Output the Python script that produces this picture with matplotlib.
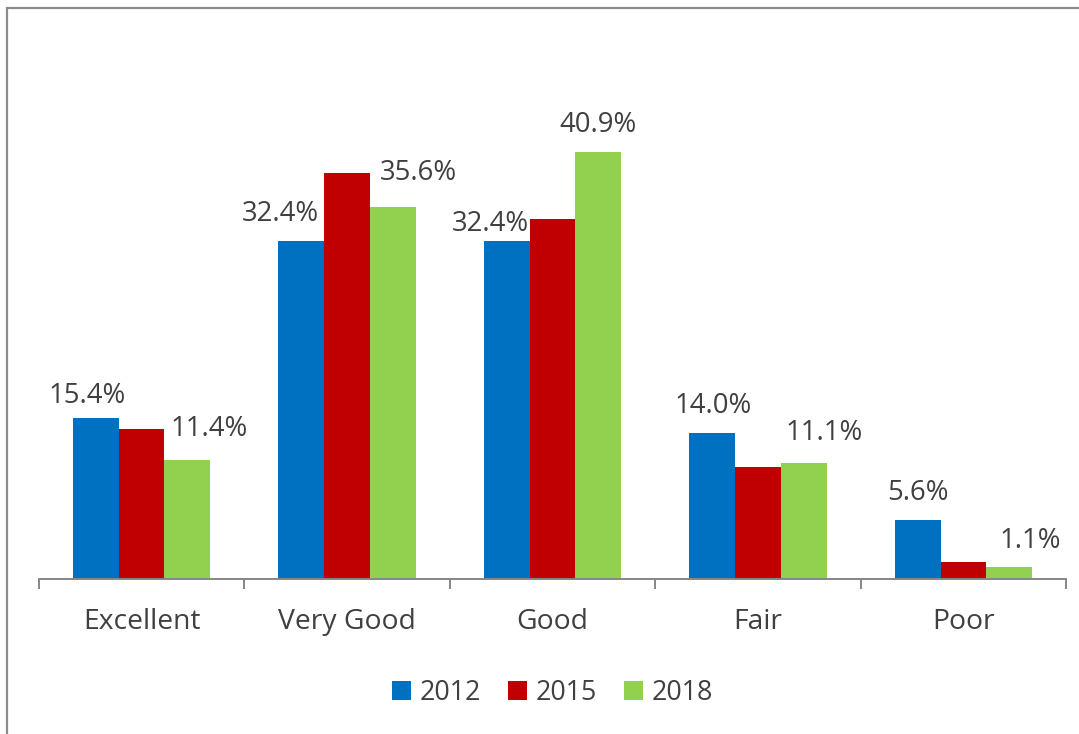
import matplotlib
matplotlib.use("Agg")
import matplotlib.pyplot as plt
from matplotlib.patches import Rectangle
import numpy as np

plt.rcParams['font.family'] = ['Open Sans', 'DejaVu Sans']

categories = ["Excellent", "Very Good", "Good", "Fair", "Poor"]
series_names = ["2012", "2015", "2018"]
values_2012 = [15.4, 32.4, 32.4, 14.0, 5.6]
values_2015 = [14.3, 38.9, 34.5, 10.7, 1.6]
values_2018 = [11.4, 35.6, 40.9, 11.1, 1.1]
show_labels = [True, False, True]

colors = ["#0070C0", "#C00000", "#92D050"]
text_color = "#404040"
# manual label offsets in pixels (dx from bar centre, dy of baseline above bar top)
label_offsets_2012 = [(-9, 15), (-21, 20), (-16, 10), (1, 20), (0, 20)]
label_offsets_2018 = [(22, 24), (26, 27), (0, 20), (20, 23), (21, 19)]

W, H = 1079, 734
fig = plt.figure(figsize=(W / 100, H / 100), dpi=100)
ax = fig.add_axes([38.75 / W, (H - 578.5) / H, 1027.5 / W, 469 / H])

series = [values_2012, values_2015, values_2018]
offsets = [label_offsets_2012, None, label_offsets_2018]
x = np.arange(len(categories))
bw = 0.2225
for j, vals in enumerate(series):
    xs = x + (j - 1) * bw
    ax.bar(xs, vals, width=bw, color=colors[j], label=series_names[j], zorder=2)
    if show_labels[j]:
        for xi, v, (dx, dy) in zip(xs, vals, offsets[j]):
            ax.annotate(f"{v:.1f}%", xy=(xi, v), xytext=(dx, dy),
                        textcoords="offset pixels", ha="center", va="baseline",
                        fontsize=19.8, color=text_color)

ax.set_xlim(-0.5, len(categories) - 0.5)
ax.set_ylim(0, 45)
for s in ["top", "right", "left"]:
    ax.spines[s].set_visible(False)
ax.spines["bottom"].set_color("#868686")
ax.spines["bottom"].set_linewidth(1.4)
ax.set_yticks([])
ax.set_xticks(x)
ax.set_xticklabels(categories, fontsize=20.3, color=text_color)
ax.tick_params(axis="x", which="major", length=0, pad=21)
ax.set_xticks(np.arange(-0.5, len(categories)), minor=True)
ax.tick_params(axis="x", which="minor", length=7, width=1.4, color="#868686")

fig.legend(loc="center", bbox_to_anchor=(552.5 / W, 1 - 692.5 / H), ncol=3,
           frameon=False, fontsize=19.3, handlelength=0.7, handleheight=0.7,
           handletextpad=0.34, columnspacing=1.0, labelcolor=text_color)

fig.patches.append(Rectangle((7 / W, -0.1), 1.2, (H - 8) / H + 0.1,
                             transform=fig.transFigure, fill=False,
                             edgecolor="#8c8c8c", linewidth=1.6))

fig.savefig("out.png", dpi=100)
